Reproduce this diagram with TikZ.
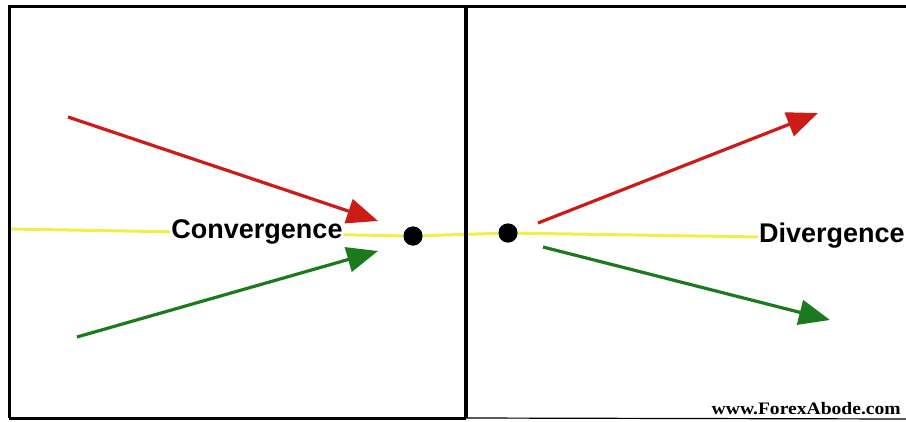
\documentclass[tikz,border=0pt]{standalone}
\usepackage{fontspec}
\setmainfont{Liberation Sans}
\newfontfamily\webfont{Liberation Serif}
\usetikzlibrary{arrows.meta}
\definecolor{arrred}{RGB}{205,28,24}
\definecolor{arrgreen}{RGB}{28,122,30}
\definecolor{trendyellow}{RGB}{242,238,70}
\tikzset{
  frameline/.style={line width=3pt, black},
  trend/.style={line width=3pt, trendyellow},
  movearrow/.style={line width=3.2pt, -{Triangle[length=31pt,width=25pt]}},
  dotpt/.style={circle, fill=black, inner sep=0pt, minimum size=19pt},
  label/.style={font=\bfseries\fontsize{27}{29}\selectfont, fill=white, inner sep=1pt},
}
\begin{document}
\begin{tikzpicture}[x=1pt,y=-1pt]
\useasboundingbox (0,0) rectangle (906,421);
% coordinates
\coordinate (ylL) at (10,229);
\coordinate (ylR) at (760,237);
\coordinate (divT) at (466,6);
\coordinate (divB) at (466,418);
\coordinate (frTL) at (9,6);
\coordinate (frTR) at (906,6);
\coordinate (frBL) at (9,418);
\coordinate (frBR) at (906,419);
\coordinate (rls) at (68,117);
\coordinate (rlt) at (378,221);
\coordinate (gls) at (77,337);
\coordinate (glt) at (378,251);
\coordinate (rrs) at (538,223);
\coordinate (rrt) at (818,113);
\coordinate (grs) at (543,247);
\coordinate (grt) at (830,320);
% dots
\node[dotpt] (dotL) at (413,236) {};
\node[dotpt] (dotR) at (508,233) {};
% yellow trend line
\draw[trend] (ylL) -- (dotL.center) -- (dotR.center) -- (ylR);
% labels
\node[label] (conv) at (257,232) {Convergence};
\node[label, anchor=west] (div) at (758,236) {Divergence};
% frame
\draw[frameline] (frBL) -- (frTL) -- (frTR);
\draw[frameline] (frBL) -- (divB);
\draw[line width=1.2pt] (divB) -- (frBR);
\draw[line width=3.5pt] (divT) -- (divB);
% arrows
\draw[movearrow, arrred] (rls) -- (rlt);
\draw[movearrow, arrgreen] (gls) -- (glt);
\draw[movearrow, arrred] (rrs) -- (rrt);
\draw[movearrow, arrgreen] (grs) -- (grt);
% dots on top
\fill (dotL) circle (9.5);
\fill (dotR) circle (9.5);
% watermark
\node[anchor=base east, inner sep=0pt] (web) at (901,414) {\scalebox{1.12}[1]{\webfont\bfseries\fontsize{17.5}{18}\selectfont www.ForexAbode.com}};
\end{tikzpicture}
\end{document}
